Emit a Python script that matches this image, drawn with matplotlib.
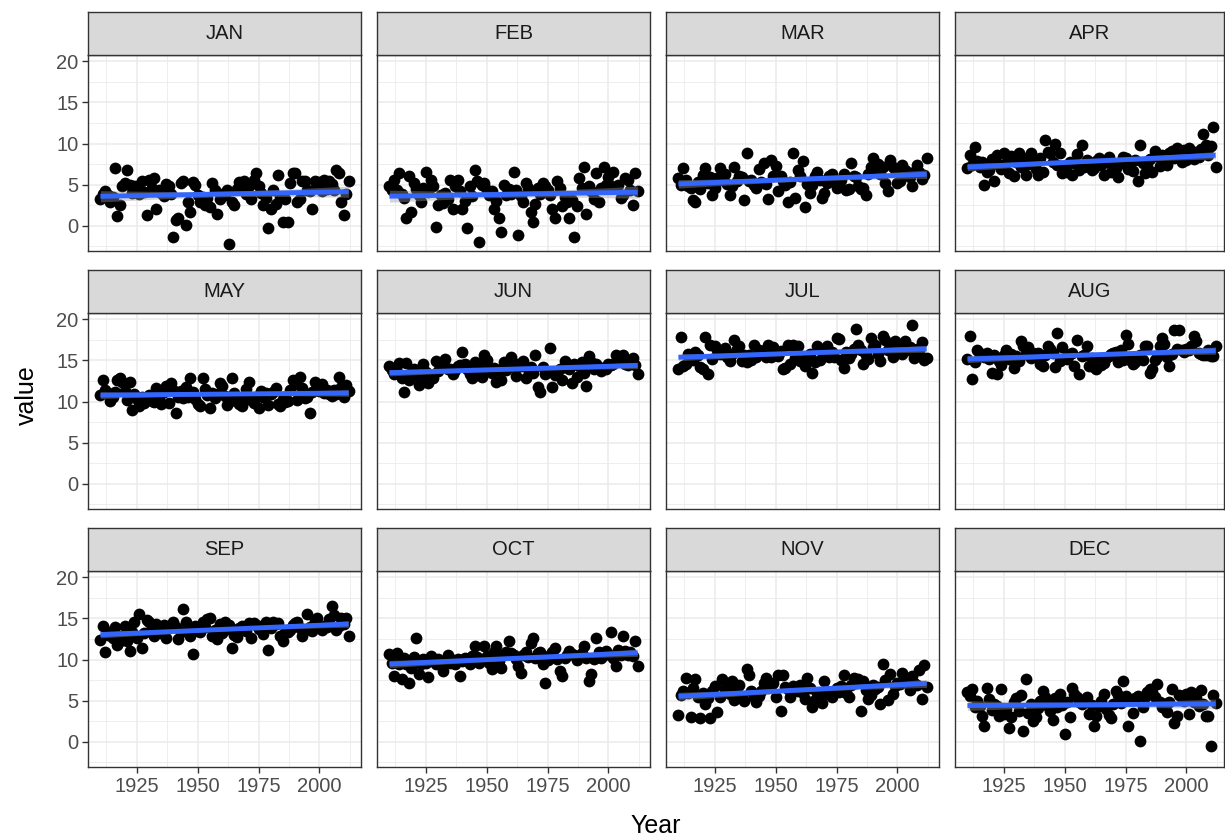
import numpy as np
import matplotlib
matplotlib.use("Agg")
import matplotlib.pyplot as plt

plt.rcParams['font.family'] = ['Liberation Sans', 'DejaVu Sans']

years = np.arange(1910, 2013)
months = ["JAN", "FEB", "MAR", "APR", "MAY", "JUN",
          "JUL", "AUG", "SEP", "OCT", "NOV", "DEC"]

# monthly mean temperature, 1910-2012 (10 years per row)
jan = [3.3, 3.9, 4.2, 3.8, 2.9, 3.5, 7.0, 1.2, 2.5, 4.8,
       5.2, 6.8, 5.0, 4.0, 4.8, 4.9, 3.9, 5.4, 4.1, 1.3,
       5.6, 4.6, 5.8, 2.1, 4.3, 4.0, 3.6, 5.1, 4.8, 3.9,
       -1.3, 0.7, 1.0, 5.2, 5.4, 0.1, 2.9, 1.7, 5.3, 5.0,
       3.8, 2.9, 3.5, 2.5, 3.4, 2.3, 5.2, 4.3, 1.4, 3.3,
       3.9, 3.8, 4.4, -2.2, 2.9, 2.5, 4.5, 5.3, 4.6, 5.4,
       3.9, 4.9, 3.3, 5.6, 6.4, 4.8, 4.0, 2.5, 3.4, -0.3,
       2.1, 4.4, 2.6, 6.2, 3.5, 0.5, 3.3, 0.5, 5.2, 6.4,
       6.4, 2.9, 3.3, 5.4, 5.4, 4.4, 4.2, 2.1, 5.4, 5.0,
       5.3, 4.2, 5.6, 4.5, 5.4, 5.1, 4.4, 6.8, 6.4, 2.9,
       1.3, 3.9, 5.4]
feb = [4.8, 4.4, 5.6, 4.3, 6.4, 3.9, 3.4, 0.9, 6.0, 1.7,
       5.2, 4.5, 3.8, 2.9, 4.6, 6.6, 4.1, 5.6, 4.8, -0.1,
       2.5, 3.7, 2.8, 4.0, 3.3, 5.6, 2.1, 4.9, 5.6, 4.2,
       2.1, 3.0, -0.2, 4.9, 3.6, 6.8, 5.5, -2.0, 5.0, 5.2,
       4.4, 3.8, 4.2, 2.1, 3.0, 0.9, -0.7, 5.0, 3.8, 4.5,
       3.9, 6.6, 4.4, -1.1, 3.6, 2.9, 5.2, 4.6, 1.7, 0.5,
       2.7, 4.6, 3.9, 5.2, 4.8, 4.4, 3.8, 2.1, 0.9, 5.4,
       4.6, 2.4, 3.5, 2.9, 0.9, 3.2, -1.3, 2.4, 5.8, 4.6,
       7.2, 1.5, 4.8, 4.2, 3.3, 6.4, 2.9, 4.6, 7.2, 5.0,
       5.9, 4.9, 6.6, 4.6, 5.0, 3.4, 3.7, 5.8, 5.6, 4.4,
       2.5, 6.4, 4.2]
mar = [5.8, 5.0, 7.0, 5.6, 4.9, 4.6, 3.1, 2.9, 5.3, 4.5,
       6.2, 7.0, 5.2, 5.9, 3.8, 4.6, 5.8, 7.0, 5.6, 6.3,
       5.1, 3.8, 4.8, 7.2, 5.5, 6.1, 5.9, 3.2, 8.8, 5.4,
       5.6, 5.0, 4.6, 6.9, 5.3, 7.6, 5.1, 3.3, 8.0, 6.0,
       7.3, 4.2, 6.1, 5.4, 5.0, 2.9, 5.3, 8.8, 3.4, 6.8,
       6.1, 7.9, 2.3, 5.1, 4.0, 5.0, 6.0, 6.5, 5.6, 3.4,
       4.0, 5.2, 6.0, 6.3, 5.6, 4.6, 5.5, 5.6, 6.3, 4.4,
       4.5, 7.6, 6.1, 5.9, 4.8, 4.5, 4.6, 3.8, 6.3, 7.2,
       8.2, 6.9, 7.5, 6.3, 7.1, 5.2, 4.2, 8.0, 7.2, 6.9,
       5.2, 5.5, 7.4, 6.8, 6.5, 5.9, 4.8, 6.6, 7.4, 6.5,
       5.7, 6.2, 8.2]
apr = [7.0, 8.6, 7.4, 9.6, 7.9, 7.2, 7.8, 5.0, 6.5, 6.8,
       8.1, 5.4, 8.6, 7.4, 6.9, 8.9, 7.6, 6.4, 8.5, 6.0,
       7.8, 8.8, 7.1, 8.3, 6.2, 7.5, 8.8, 7.6, 6.9, 6.2,
       8.2, 6.6, 10.4, 9.0, 8.9, 7.7, 10.0, 7.4, 8.8, 6.4,
       7.2, 6.6, 7.8, 6.2, 7.6, 8.7, 6.8, 9.8, 7.1, 8.0,
       7.5, 6.8, 7.0, 7.9, 8.3, 7.4, 6.2, 7.7, 8.4, 6.5,
       7.3, 7.0, 5.9, 7.6, 8.4, 8.2, 6.9, 7.8, 6.7, 8.0,
       5.4, 9.8, 7.6, 6.4, 7.3, 8.1, 6.6, 9.1, 8.5, 7.3,
       8.6, 7.9, 7.4, 8.8, 9.1, 8.3, 9.4, 8.2, 7.8, 9.2,
       8.0, 9.4, 8.7, 8.1, 9.0, 8.4, 9.3, 11.2, 9.8, 8.6,
       9.7, 12.0, 7.2]
may = [10.8, 12.6, 11.4, 11.0, 10.1, 10.5, 11.2, 12.6, 12.8, 12.4,
       11.3, 10.2, 12.4, 9.0, 10.9, 10.3, 9.4, 10.5, 9.8, 10.6,
       10.8, 10.1, 9.9, 11.6, 10.4, 9.7, 11.1, 11.9, 9.8, 12.2,
       11.4, 8.6, 10.6, 11.3, 10.4, 11.8, 10.6, 12.8, 11.1, 10.3,
       9.7, 9.4, 12.8, 11.5, 10.8, 9.2, 11.0, 10.4, 10.9, 12.2,
       11.9, 10.7, 9.6, 10.0, 12.8, 11.0, 10.4, 9.7, 9.4, 10.3,
       11.5, 12.4, 10.2, 9.8, 10.6, 9.2, 11.3, 10.5, 11.0, 9.6,
       10.9, 11.2, 11.7, 9.7, 9.5, 10.3, 9.9, 10.1, 11.4, 12.6,
       12.1, 10.2, 13.0, 11.6, 10.4, 10.6, 8.6, 11.1, 12.4, 11.8,
       11.3, 12.1, 11.0, 11.4, 10.9, 10.7, 11.4, 10.9, 13.0, 11.8,
       10.6, 12.0, 11.3]
jun = [14.3, 13.8, 13.4, 13.6, 14.7, 12.8, 11.2, 14.7, 12.6, 13.5,
       13.9, 13.2, 12.0, 12.6, 14.5, 13.6, 12.2, 13.1, 12.8, 14.9,
       13.7, 14.2, 14.7, 15.2, 14.0, 13.9, 13.3, 13.8, 14.3, 14.4,
       16.0, 14.6, 13.9, 13.4, 12.8, 14.8, 13.2, 14.5, 13.0, 15.7,
       15.1, 13.9, 13.5, 14.1, 12.4, 13.8, 12.6, 14.8, 13.8, 14.2,
       15.4, 14.4, 13.1, 14.5, 14.3, 14.9, 12.9, 13.9, 14.2, 13.5,
       15.7, 11.8, 11.2, 14.2, 13.4, 13.6, 16.5, 11.8, 13.2, 13.6,
       14.0, 12.6, 14.9, 14.6, 14.0, 12.2, 14.5, 13.0, 14.3, 14.8,
       13.5, 11.9, 15.5, 14.8, 14.0, 14.5, 14.2, 13.7, 14.1, 13.9,
       14.5, 14.4, 14.6, 15.7, 15.2, 15.1, 15.7, 14.6, 14.4, 14.7,
       15.3, 14.4, 13.3]
jul = [13.9, 17.8, 14.3, 14.6, 15.8, 15.3, 15.1, 16.0, 15.6, 14.2,
       14.0, 17.8, 13.3, 16.9, 15.2, 16.7, 16.3, 15.8, 16.1, 16.5,
       15.4, 14.9, 15.8, 17.5, 16.4, 16.7, 14.9, 15.7, 14.8, 15.6,
       15.1, 16.9, 15.4, 16.2, 16.1, 15.8, 15.4, 16.9, 15.4, 16.6,
       15.7, 15.5, 16.1, 13.9, 14.1, 16.9, 14.6, 16.9, 15.3, 16.8,
       14.9, 15.1, 14.3, 15.2, 15.8, 13.5, 14.8, 16.7, 15.0, 16.3,
       15.7, 16.7, 15.4, 16.0, 15.4, 17.7, 17.6, 15.0, 14.1, 16.0,
       15.3, 15.8, 16.4, 18.8, 16.9, 16.2, 14.5, 15.7, 15.2, 17.7,
       16.6, 16.9, 15.8, 14.9, 17.9, 17.5, 16.2, 16.6, 15.4, 17.3,
       15.9, 16.4, 15.8, 17.3, 16.3, 16.6, 19.3, 15.3, 16.4, 16.0,
       17.2, 15.1, 15.3]
aug = [15.2, 18.0, 12.7, 14.8, 16.2, 15.6, 15.8, 15.4, 15.9, 15.2,
       13.5, 15.7, 13.3, 14.9, 14.4, 15.6, 16.3, 15.2, 15.8, 14.1,
       15.5, 14.9, 17.3, 16.7, 15.8, 16.6, 15.3, 15.9, 15.7, 15.9,
       14.5, 14.3, 15.7, 16.7, 16.4, 15.9, 14.2, 18.3, 14.9, 16.6,
       15.3, 15.2, 15.8, 15.9, 14.3, 17.5, 13.3, 15.5, 15.6, 16.8,
       14.3, 15.3, 14.2, 13.9, 15.1, 14.4, 14.7, 15.3, 15.5, 15.8,
       15.9, 16.0, 14.8, 16.3, 15.1, 18.1, 17.0, 15.1, 14.5, 14.8,
       15.3, 15.6, 15.1, 16.8, 16.7, 13.5, 14.0, 15.1, 15.4, 16.7,
       17.7, 17.0, 15.4, 14.3, 15.8, 18.7, 16.4, 18.7, 16.2, 16.0,
       16.4, 16.3, 16.7, 17.9, 17.3, 15.9, 15.8, 15.7, 15.6, 16.3,
       15.5, 15.5, 16.7]
sep = [12.4, 14.1, 10.9, 13.0, 13.4, 12.6, 14.0, 11.8, 12.3, 12.8,
       14.1, 12.2, 11.0, 13.3, 14.5, 12.6, 15.5, 11.4, 13.2, 14.8,
       14.6, 13.8, 12.8, 14.3, 13.6, 13.2, 14.2, 12.6, 14.0, 13.9,
       14.5, 14.0, 12.5, 13.4, 16.1, 14.5, 13.3, 12.9, 10.7, 14.1,
       13.5, 13.3, 14.5, 13.9, 14.9, 15.1, 12.9, 13.6, 12.5, 14.3,
       13.2, 14.6, 13.7, 14.2, 11.4, 13.0, 12.7, 13.8, 14.1, 14.0,
       13.5, 14.4, 12.6, 14.4, 14.2, 13.7, 14.1, 13.1, 14.5, 11.1,
       13.8, 14.5, 14.3, 14.4, 12.9, 12.3, 13.4, 13.3, 13.6, 14.2,
       14.4, 14.6, 13.8, 12.8, 13.6, 15.5, 14.0, 13.5, 14.8, 15.1,
       13.9, 13.6, 14.1, 13.9, 14.9, 16.5, 15.4, 13.6, 14.1, 15.1,
       14.3, 15.1, 12.9]
oct_ = [10.7, 9.6, 8.0, 10.8, 9.5, 7.6, 10.2, 9.4, 7.2, 9.0,
        10.3, 12.6, 8.2, 9.4, 10.1, 9.6, 7.9, 10.4, 9.9, 9.5,
        10.1, 9.3, 8.6, 9.8, 10.5, 9.6, 10.0, 9.4, 10.1, 8.0,
        9.8, 10.2, 9.9, 9.5, 10.4, 11.6, 10.3, 9.6, 9.9, 11.6,
        10.4, 9.6, 8.8, 10.9, 11.6, 9.8, 9.0, 10.7, 10.9, 12.2,
        10.8, 10.5, 10.1, 9.2, 8.4, 10.5, 10.9, 10.3, 12.0, 12.6,
        10.2, 10.8, 10.9, 9.4, 7.2, 9.9, 10.6, 10.9, 11.4, 10.1,
        8.6, 8.0, 10.2, 10.5, 11.0, 10.7, 10.6, 9.9, 10.3, 10.8,
        11.6, 10.2, 7.4, 8.2, 10.1, 12.6, 10.9, 10.2, 10.6, 11.0,
        10.7, 13.3, 10.2, 9.2, 11.2, 10.5, 12.8, 11.0, 10.5, 10.9,
        10.4, 12.2, 9.2]
nov = [3.3, 5.7, 6.2, 7.8, 5.9, 3.0, 6.6, 7.6, 5.4, 2.9,
       5.9, 4.6, 5.3, 2.9, 6.2, 6.8, 3.6, 5.5, 7.6, 6.4,
       6.9, 5.8, 7.4, 5.1, 6.5, 6.9, 5.5, 5.0, 8.8, 8.1,
       6.2, 5.4, 4.8, 5.6, 6.2, 7.1, 7.8, 6.6, 6.9, 7.2,
       5.4, 8.1, 3.8, 8.1, 6.7, 6.4, 5.5, 6.8, 6.6, 6.2,
       6.9, 5.9, 5.2, 7.7, 6.6, 4.2, 5.1, 5.9, 5.3, 4.7,
       7.4, 6.2, 5.8, 5.5, 6.0, 6.6, 6.1, 6.8, 8.1, 5.9,
       5.5, 6.9, 7.7, 7.2, 7.6, 3.8, 7.4, 6.3, 5.2, 5.7,
       6.9, 6.4, 6.7, 4.6, 9.5, 7.5, 5.1, 8.2, 5.8, 6.8,
       7.2, 7.0, 8.4, 7.5, 7.4, 6.3, 8.0, 7.1, 6.9, 8.7,
       5.2, 9.3, 6.7]
dec = [6.1, 5.6, 6.4, 4.2, 5.0, 4.4, 3.2, 1.9, 6.6, 5.2,
       3.9, 4.6, 4.3, 3.2, 6.4, 3.4, 4.0, 1.7, 3.0, 4.9,
       5.3, 3.8, 5.7, 1.3, 7.6, 3.5, 4.6, 2.5, 3.0, 4.1,
       5.0, 6.2, 5.5, 4.3, 3.7, 2.7, 5.3, 4.2, 5.8, 4.5,
       0.9, 4.9, 3.0, 6.6, 5.8, 5.5, 4.9, 4.6, 5.0, 5.4,
       3.4, 4.5, 1.9, 3.1, 4.4, 5.0, 5.8, 4.0, 3.3, 2.9,
       4.6, 6.2, 5.7, 4.7, 7.4, 5.6, 1.9, 5.1, 3.5, 5.3,
       5.6, 0.1, 4.2, 5.5, 6.1, 6.4, 6.0, 5.4, 7.0, 4.9,
       4.2, 4.6, 3.6, 4.9, 6.4, 2.3, 3.1, 5.7, 5.3, 5.0,
       5.8, 3.4, 6.1, 4.9, 5.3, 4.4, 6.3, 4.6, 3.1, 3.1,
       -0.5, 5.7, 4.7]

series = [jan, feb, mar, apr, may, jun, jul, aug, sep, oct_, nov, dec]

x_ticks = [1925, 1950, 1975, 2000]
x_minor = [1912.5, 1937.5, 1962.5, 1987.5, 2012.5]
y_ticks = [0, 5, 10, 15, 20]
y_minor = [-2.5, 2.5, 7.5, 12.5, 17.5]

W, H = 1225, 839
fig = plt.figure(figsize=(W / 100, H / 100), dpi=100)


def box(x, y, w, h):
    return [x / W, 1 - (y + h) / H, w / W, h / H]


lefts = [88, 377, 666, 955]
widths = [273, 273, 273, 269]
tops = [12, 270, 528]
strip_h = 43
panel_h = 196
xlo, xhi = 1904.9, 2017.1
ylo, yhi = -3.05, 20.75
border = '#333333'

for i, (name, vals) in enumerate(zip(months, series)):
    row, col = divmod(i, 4)
    vals = np.array(vals, dtype=float)

    ax = fig.add_axes(box(lefts[col], tops[row] + strip_h, widths[col], panel_h))
    ax.set_xlim(xlo, xlo + (xhi - xlo) * widths[col] / 273)
    ax.set_ylim(ylo, yhi)
    ax.set_xticks(x_ticks)
    ax.set_xticks(x_minor, minor=True)
    ax.set_yticks(y_ticks)
    ax.set_yticks(y_minor, minor=True)
    ax.grid(which='major', color='#EBEBEB', lw=1.1)
    ax.grid(which='minor', color='#EBEBEB', lw=0.6)
    ax.set_axisbelow(True)
    for s in ax.spines.values():
        s.set_color(border)
        s.set_linewidth(1.0)
    ax.tick_params(which='minor', length=0)
    ax.tick_params(which='major', width=1.0, color=border,
                   labelsize=14.5, labelcolor='#4D4D4D', pad=3)
    ax.tick_params(axis='x', which='major', length=4 if row == 2 else 0,
                   labelbottom=(row == 2))
    ax.tick_params(axis='y', which='major', length=4 if col == 0 else 0,
                   labelleft=(col == 0))

    ax.scatter(years, vals, s=72, color='black', linewidths=0, zorder=3)

    # linear fit with 95% band
    b, a = np.polyfit(years, vals, 1)
    n = len(years)
    resid = vals - (a + b * years)
    s_err = np.sqrt(np.sum(resid ** 2) / (n - 2))
    xbar = years.mean()
    sxx = np.sum((years - xbar) ** 2)
    xs = np.linspace(years.min(), years.max(), 80)
    fit = a + b * xs
    half = 1.984 * s_err * np.sqrt(1 / n + (xs - xbar) ** 2 / sxx)
    ax.fill_between(xs, fit - half, fit + half, color='#999999', alpha=0.4,
                    lw=0, zorder=4)
    ax.plot(xs, fit, color='#3366FF', lw=3.5, zorder=5,
            solid_capstyle='butt')

    sax = fig.add_axes(box(lefts[col], tops[row], widths[col], strip_h))
    sax.set_facecolor('#D9D9D9')
    sax.set_xticks([])
    sax.set_yticks([])
    for s in sax.spines.values():
        s.set_color(border)
        s.set_linewidth(1.0)
    sax.text(0.5, 0.5, name, ha='center', va='center', fontsize=14.5,
             color='#1A1A1A', transform=sax.transAxes)

fig.text(656 / W, 1 - 826 / H, 'Year', ha='center', va='center', fontsize=18)
fig.text(27 / W, 1 - 395 / H, 'value', ha='center', va='center',
         rotation=90, fontsize=18)

fig.savefig('out.png', dpi=100)
